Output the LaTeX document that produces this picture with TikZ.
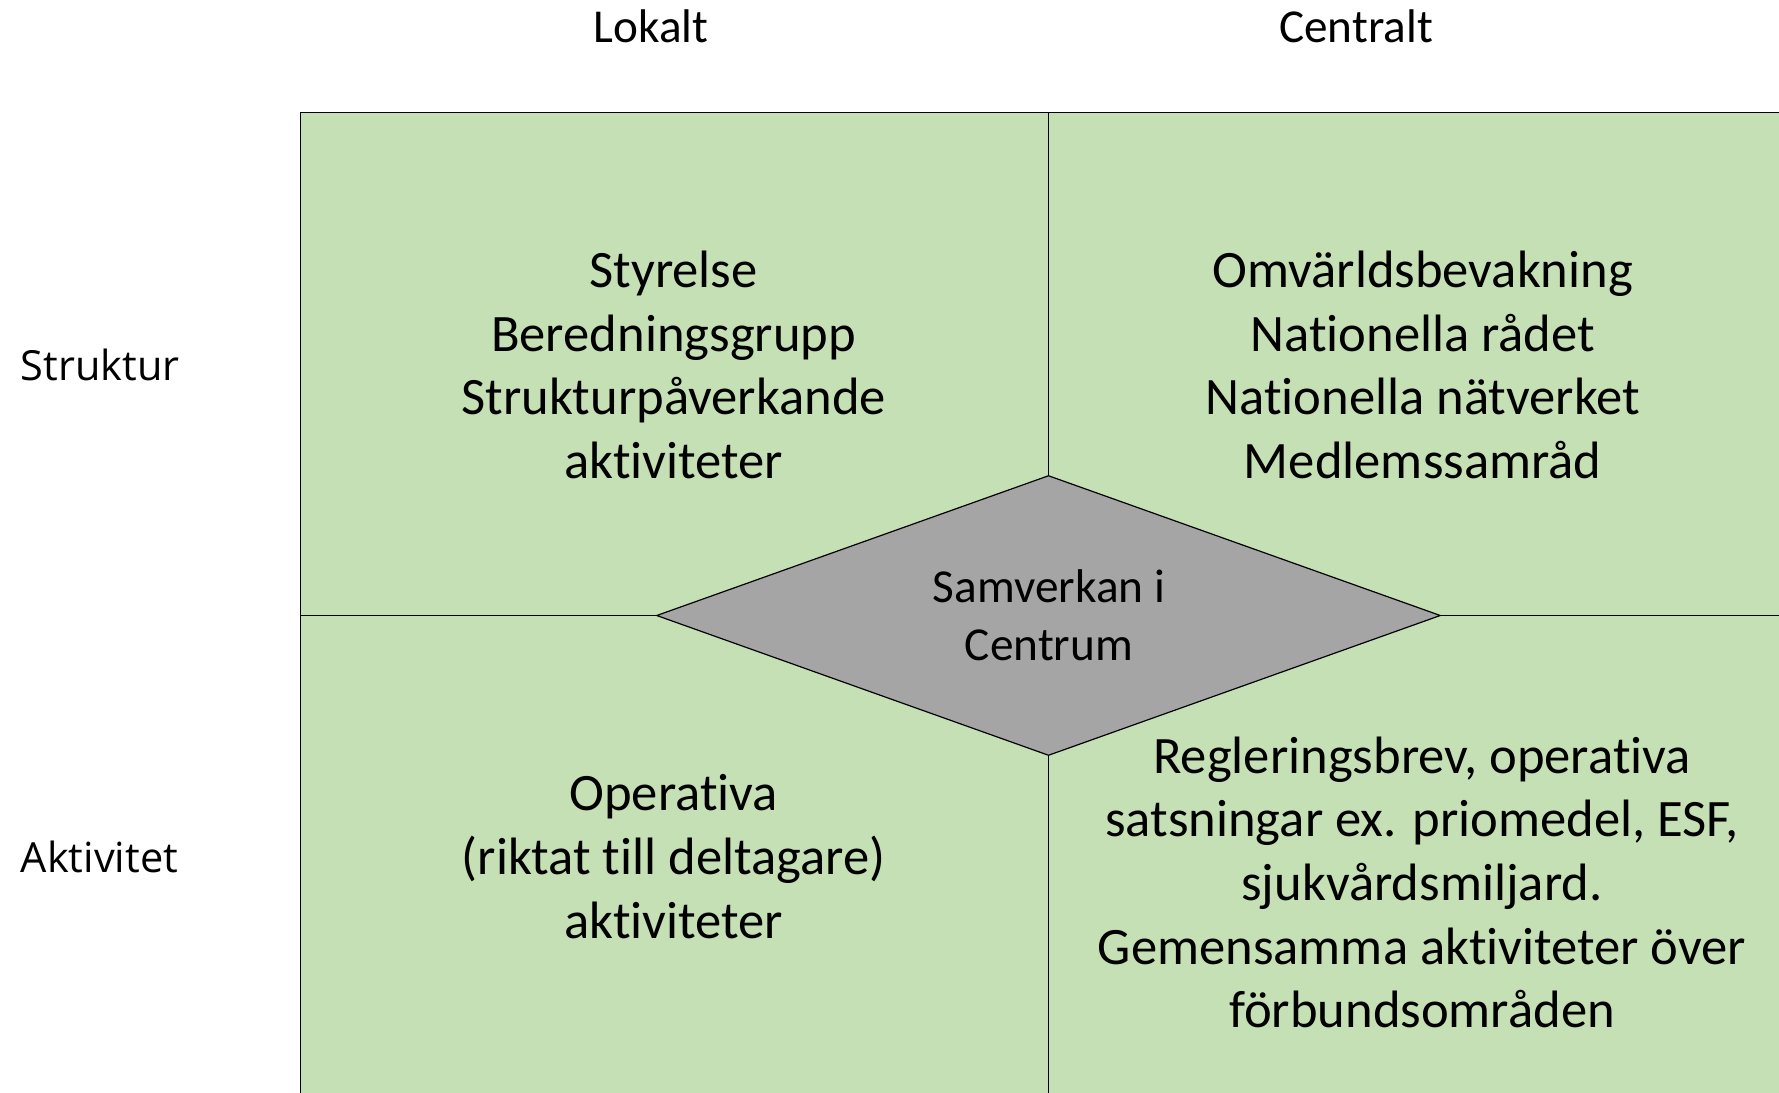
\documentclass[tikz,border=0pt]{standalone}
\usepackage{fontspec}
\setmainfont{Carlito}[Ligatures={NoCommon}]
\newfontfamily\sidefont{Open Sans}
\usetikzlibrary{shapes.geometric}
\definecolor{cellgreen}{HTML}{C5E0B4}
\definecolor{diagray}{HTML}{A5A5A5}
\newcommand\stacklines[1]{\begin{tabular}[t]{@{}c@{}}#1\end{tabular}}
\tikzset{
  gridline/.style={draw=black, line width=1.2pt},
  celltext/.style={anchor=base, inner sep=0pt, font=\fontsize{52.6}{63.7}\selectfont},
  headtext/.style={anchor=base, inner sep=0pt, font=\fontsize{47.2}{57}\selectfont},
  sidetext/.style={anchor=base west, inner sep=0pt, font=\sidefont\fontsize{41.5}{50}\selectfont},
  centretext/.style={anchor=base, inner sep=0pt, font=\fontsize{47.3}{57.3}\selectfont},
  centrebox/.style={diamond, draw=black, line width=1.2pt, fill=diagray, inner sep=0pt,
    minimum width=784pt, minimum height=280pt, aspect=2.8},
}
\begin{document}
\begin{tikzpicture}[x=1pt,y=-1pt]
\clip (0,0) rectangle (1779,1092);
\fill[white] (0,0) rectangle (1779,1092);
% grid
\coordinate (tl) at (300.5,112.5);
\coordinate (tm) at (1048.5,112.5);
\coordinate (tr) at (1800,112.5);
\coordinate (ml) at (300.5,615.5);
\coordinate (mr) at (1800,615.5);
\coordinate (bl) at (300.5,1100);
\coordinate (bm) at (1048.5,1100);
\fill[cellgreen] (tl) rectangle (1800,1100);
\draw[gridline] (bl) -- (tl) -- (tr);
\draw[gridline] (tm) -- (bm);
\draw[gridline] (ml) -- (mr);
% centre diamond
\node[centrebox] (centre) at (1048.5,615.5) {};
\node[centretext] (centrelabel) at (1049,602.7) {\stacklines{Samverkan i\\Centrum}};
% headers
\node[headtext] (lokalt) at (651,42.7) {Lokalt};
\node[headtext] (centralt) at (1356,42.7) {Centralt};
\node[sidetext] (struktur) at (20.7,380.4) {Struktur};
\node[sidetext] (aktivitet) at (20.7,872) {Aktivitet};
% cells
\node[celltext] (sl) at (673.6,287.3) {\stacklines{Styrelse\\Beredningsgrupp\\Strukturpåverkande\\aktiviteter}};
\node[celltext] (sc) at (1422.7,287.3) {\stacklines{Omvärldsbevakning\\Nationella rådet\\Nationella nätverket\\Medlemssamråd}};
\node[celltext] (al) at (673.6,810.7) {\stacklines{Operativa\\(riktat till deltagare)\\aktiviteter}};
\node[celltext] (ac) at (1422,773) {\stacklines{Regleringsbrev, operativa\\satsningar ex. priomedel, ESF,\\sjukvårdsmiljard.\\Gemensamma aktiviteter över\\förbundsområden}};
\end{tikzpicture}
\end{document}
